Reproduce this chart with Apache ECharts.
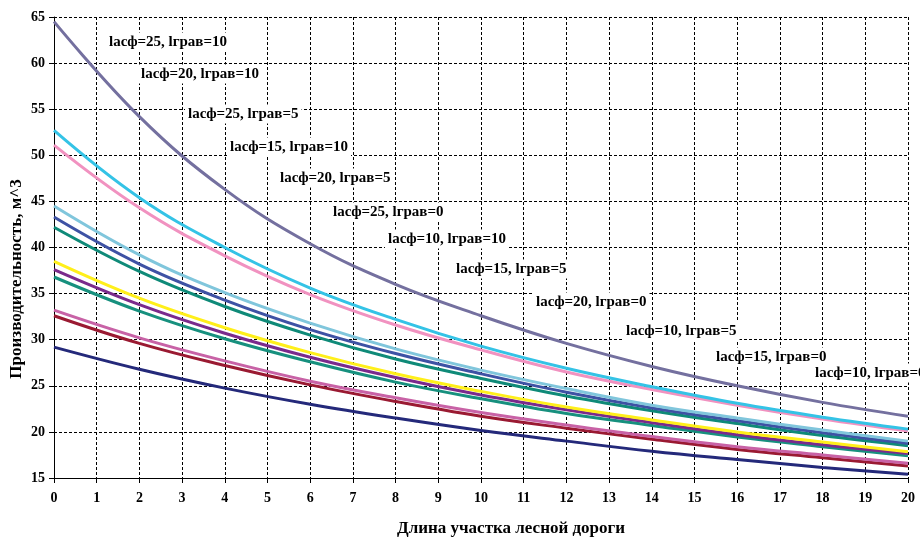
<!DOCTYPE html>
<html>
<head>
<meta charset="utf-8">
<script src="https://cdn.jsdelivr.net/npm/echarts@6/dist/echarts.min.js"></script>
<style>
html,body{margin:0;padding:0;background:#fff;}
#chart{width:920px;height:539px;}
</style>
</head>
<body>
<div id="chart"></div>
<script>
// ---- data ----
const xValues = [0, 2, 4, 6, 8, 10, 12, 14, 16, 18, 20];
const seriesNames = [
  'lасф=25, lграв=10',
  'lасф=20, lграв=10',
  'lасф=25, lграв=5',
  'lасф=15, lграв=10',
  'lасф=20, lграв=5',
  'lасф=25, lграв=0',
  'lасф=10, lграв=10',
  'lасф=15, lграв=5',
  'lасф=20, lграв=0',
  'lасф=10, lграв=5',
  'lасф=15, lграв=0',
  'lасф=10, lграв=0'
];
const s25_10 = [64.5, 54.2, 46.3, 40.4, 36.0, 32.6, 29.6, 27.1, 25.0, 23.2, 21.7];
const s20_10 = [52.7, 45.4, 40.0, 35.6, 32.2, 29.3, 26.9, 24.9, 23.1, 21.6, 20.3];
const s25_5  = [51.1, 44.3, 39.1, 34.9, 31.6, 28.9, 26.5, 24.6, 22.9, 21.4, 20.1];
const s15_10 = [44.5, 39.2, 35.1, 31.8, 29.0, 26.7, 24.7, 22.9, 21.5, 20.2, 19.0];
const s20_5  = [43.3, 38.2, 34.3, 31.1, 28.5, 26.3, 24.3, 22.6, 21.2, 19.9, 18.75];
const s25_0  = [42.2, 37.4, 33.6, 30.5, 27.9, 25.8, 23.9, 22.3, 20.9, 19.6, 18.5];
const s10_10 = [38.5, 34.5, 31.3, 28.6, 26.3, 24.4, 22.7, 21.3, 20.0, 18.9, 17.85];
const s15_5  = [37.6, 33.8, 30.7, 28.1, 25.9, 24.0, 22.4, 21.0, 19.7, 18.6, 17.65];
const s20_0  = [36.8, 33.1, 30.1, 27.6, 25.4, 23.6, 22.0, 20.7, 19.45, 18.4, 17.4];
const s10_5  = [33.2, 30.2, 27.7, 25.5, 23.7, 22.1, 20.75, 19.5, 18.4, 17.5, 16.6];
const s15_0  = [32.6, 29.6, 27.2, 25.1, 23.3, 21.7, 20.4, 19.2, 18.1, 17.2, 16.3];
const s10_0  = [29.2, 26.8, 24.75, 23.0, 21.5, 20.15, 19.0, 17.9, 17.0, 16.15, 15.4];
const allSeries = [s25_10, s20_10, s25_5, s15_10, s20_5, s25_0, s10_10, s15_5, s20_0, s10_5, s15_0, s10_0];
const yTicks = {min: 15, max: 65, interval: 5};
const xTicks = {min: 0, max: 20, interval: 1};
const xTitle = 'Длина участка лесной дороги';
const yTitle = 'Производительность, м^3';

// ---- styles ----
const colors = ['#74709f', '#34c3e6', '#f192c0', '#80c6dc', '#3e52a4', '#0f8a78',
                '#ffef1a', '#7a2a8c', '#17907e', '#c862a6', '#9a1a32', '#24297a'];
const labelPos = [[106,42],[138,74],[185,114],[227,147],[277,178],[330,212],
                  [385,239],[453,269],[533,302],[623,331],[713,357],[812,373]];
const FONT = '"Liberation Serif", "Times New Roman", serif';

const chart = echarts.init(document.getElementById('chart'), null, {renderer: 'canvas'});
const gridLine = {show: true, lineStyle: {color: '#000', width: 1, type: [3, 2]}};
const titles = [
  {type: 'text', x: 511, y: 529, z: 100,
   style: {text: xTitle, font: 'bold 17px ' + FONT, fill: '#000', align: 'center', verticalAlign: 'middle'}},
  {type: 'text', x: 17, y: 279, rotation: Math.PI / 2, z: 100,
   style: {text: yTitle, font: 'bold 17px ' + FONT, fill: '#000', align: 'center', verticalAlign: 'middle'}}
];
chart.setOption({
  backgroundColor: '#fff',
  animation: false,
  grid: {left: 54, right: 12, top: 17, bottom: 61, containLabel: false, outerBoundsMode: 'none'},
  xAxis: {
    type: 'value', min: xTicks.min, max: xTicks.max, interval: xTicks.interval,
    axisLine: {show: true, lineStyle: {color: '#000', width: 1}},
    axisTick: {show: true, length: 5, lineStyle: {color: '#000'}},
    axisLabel: {fontFamily: FONT, fontWeight: 'bold', fontSize: 14, color: '#000', margin: 13},
    splitLine: gridLine
  },
  yAxis: {
    type: 'value', min: yTicks.min, max: yTicks.max, interval: yTicks.interval,
    axisLine: {show: true, lineStyle: {color: '#000', width: 1}},
    axisTick: {show: true, length: 5, lineStyle: {color: '#000'}},
    axisLabel: {fontFamily: FONT, fontWeight: 'bold', fontSize: 14, color: '#000', margin: 9},
    splitLine: gridLine
  },
  series: allSeries.map((vals, i) => ({
    name: seriesNames[i],
    type: 'line',
    smooth: 0.4,
    showSymbol: false,
    lineStyle: {width: 3, color: colors[i]},
    itemStyle: {color: colors[i]},
    z: 2 + (allSeries.length - i),
    data: vals.map((v, j) => [xValues[j], v])
  })),
  graphic: titles.concat(seriesNames.map((n, i) => ({
    type: 'text',
    x: labelPos[i][0], y: labelPos[i][1],
    z: 100,
    style: {
      text: n, font: 'bold 15px ' + FONT, fill: '#000',
      backgroundColor: '#fff', padding: [2, 3],
      align: 'left', verticalAlign: 'middle'
    }
  })))
});
</script>
</body>
</html>
